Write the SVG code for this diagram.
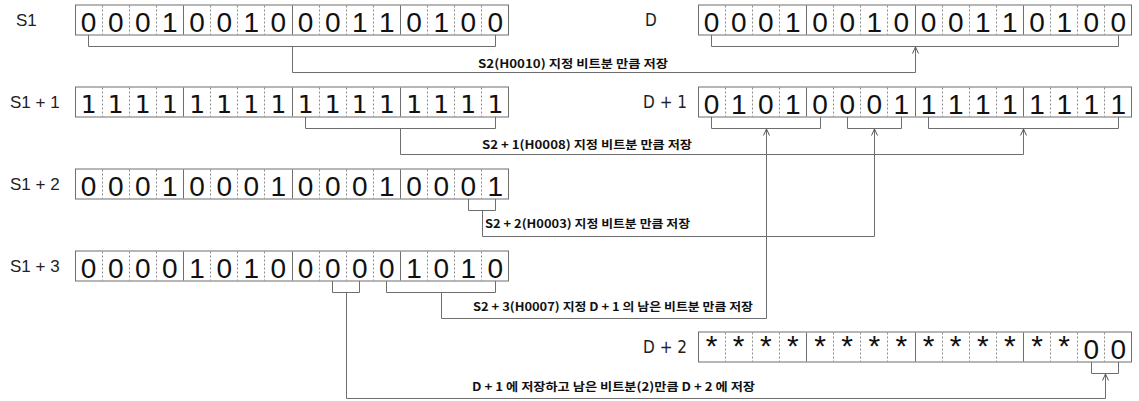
<svg xmlns="http://www.w3.org/2000/svg" width="1139" height="401" viewBox="0 0 1139 401">
<defs>
<style>
.reg{fill:#fff;stroke:#6e6e6e;stroke-width:1}
.sep{stroke:#6e6e6e;stroke-width:1}
.dsh{stroke:#8a8a8a;stroke-width:1;stroke-dasharray:2,2}
.dig{font-family:"Liberation Sans",Arial,sans-serif;font-size:28px;fill:#111;text-anchor:middle}
.dig2{font-family:"DejaVu Sans",sans-serif;font-size:25px;fill:#111;text-anchor:middle}
.ast{font-family:"Liberation Sans",Arial,sans-serif;font-size:30px;fill:#111;text-anchor:middle}
.lbl{font-family:"Liberation Sans",Arial,sans-serif;font-size:17px;fill:#222}
.lbld{font-family:"Liberation Sans Narrow","DejaVu Sans Condensed","Liberation Sans",sans-serif;font-size:17px;fill:#222;font-stretch:condensed}
.br{fill:none;stroke:#6e6e6e;stroke-width:1}
.cn{fill:none;stroke:#6e6e6e;stroke-width:1}
.ct{font-family:"Noto Sans CJK KR","Liberation Sans",sans-serif;font-size:11.5px;font-weight:bold;fill:#111}
</style>
<marker id="ah" viewBox="0 0 8 8" markerWidth="8" markerHeight="8" refX="7.5" refY="4" orient="auto" markerUnits="userSpaceOnUse">
<path d="M1,1 L7.5,4 L1,7" fill="none" stroke="#555" stroke-width="1"/>
</marker>
<g id="gridL">
<rect class="reg" x="75.5" y="0.5" width="433" height="30"/>
<path class="dsh" d="M102.5,1V30M129.5,1V30M156.5,1V30M210.5,1V30M237.5,1V30M264.5,1V30M319.5,1V30M346.5,1V30M373.5,1V30M427.5,1V30M454.5,1V30M481.5,1V30"/>
<path class="sep" d="M183.5,1V30M292.5,1V30M400.5,1V30"/>
</g>
<g id="gridR">
<rect class="reg" x="698.5" y="0.5" width="433" height="30"/>
<path class="dsh" d="M725.5,1V30M752.5,1V30M779.5,1V30M833.5,1V30M860.5,1V30M887.5,1V30M942.5,1V30M969.5,1V30M996.5,1V30M1050.5,1V30M1077.5,1V30M1104.5,1V30"/>
<path class="sep" d="M806.5,1V30M915.5,1V30M1023.5,1V30"/>
</g>
</defs>

<g id="S1">
<text class="lbl" x="16" y="26">S1</text>
<use href="#gridL" x="0" y="4.5"/>
<text class="dig" y="32" x="88.6 115.7 142.8 169.9 197.1 224.2 251.3 278.4 305.6 332.7 359.8 386.9 414.1 441.2 468.3 495.4">0001001000110100</text>
<path class="br" d="M88.5,35V46.5H495.5V35"/>
</g>

<g id="D">
<text class="lbld" x="645" y="26">D</text>
<use href="#gridR" x="0" y="4.5"/>
<text class="dig" y="32" x="711.6 738.7 765.8 792.9 820.1 847.2 874.3 901.4 928.6 955.7 982.8 1009.9 1037.1 1064.2 1091.3 1118.4">0001001000110100</text>
<path class="br" d="M711.5,35V46.5H1118.5V35"/>
</g>

<g id="S1p1">
<text class="lbl" x="10" y="108">S1 + 1</text>
<use href="#gridL" x="0" y="86.5"/>
<text class="dig2" y="113" x="88.6 115.7 142.8 169.9 197.1 224.2 251.3 278.4 305.6 332.7 359.8 386.9 414.1 441.2 468.3 495.4">1111111111111111</text>
<path class="br" d="M305.5,117V128.5H495.5V117"/>
</g>

<g id="Dp1">
<text class="lbld" x="643" y="108">D + 1</text>
<use href="#gridR" x="0" y="86.5"/>
<text class="dig" y="114" x="711.6 738.7 765.8 792.9 820.1 847.2 874.3 901.4 928.6 955.7 982.8 1009.9 1037.1 1064.2 1091.3 1118.4">0101000111111111</text>
<path class="br" d="M711.5,117V128.5H820.5V117M847.5,117V128.5H901.5V117M928.5,117V128.5H1118.5V117"/>
</g>

<g id="S1p2">
<text class="lbl" x="10" y="190">S1 + 2</text>
<use href="#gridL" x="0" y="168.5"/>
<text class="dig" y="196" x="88.6 115.7 142.8 169.9 197.1 224.2 251.3 278.4 305.6 332.7 359.8 386.9 414.1 441.2 468.3 495.4">0001000100010001</text>
<path class="br" d="M468.5,199V210.5H495.5V199"/>
</g>

<g id="S1p3">
<text class="lbl" x="10" y="272">S1 + 3</text>
<use href="#gridL" x="0" y="250.5"/>
<text class="dig" y="278" x="88.6 115.7 142.8 169.9 197.1 224.2 251.3 278.4 305.6 332.7 359.8 386.9 414.1 441.2 468.3 495.4">0000101000001010</text>
<path class="br" d="M332.5,281V292.5H359.5V281M386.5,281V292.5H495.5V281"/>
</g>

<g id="Dp2">
<text class="lbld" x="643" y="353">D + 2</text>
<use href="#gridR" x="0" y="331.5"/>
<text class="ast" y="356" x="711.6 738.7 765.8 792.9 820.1 847.2 874.3 901.4 928.6 955.7 982.8 1009.9 1037.1 1064.2">**************</text>
<text class="dig" y="359" x="1091.3 1118.4">00</text>
<path class="br" d="M1091.5,362V373.5H1118.5V362"/>
</g>

<g id="connectors">
<path class="cn" d="M292.5,46.5V72.5H915.5V47" marker-end="url(#ah)"/>
<path class="cn" d="M400.5,128.5V154.5H1023.5V129" marker-end="url(#ah)"/>
<path class="cn" d="M482.5,210.5V236.5H874.5V129" marker-end="url(#ah)"/>
<path class="cn" d="M441.5,292.5V318.5H766.5V129" marker-end="url(#ah)"/>
<path class="cn" d="M346.5,292.5V398.5H1105.5V374" marker-end="url(#ah)"/>
<text class="ct" x="478" y="68" textLength="190" lengthAdjust="spacingAndGlyphs">S2(H0010) 지정 비트분 만큼 저장</text>
<text class="ct" x="482" y="149" textLength="210" lengthAdjust="spacingAndGlyphs">S2 + 1(H0008) 지정 비트분 만큼 저장</text>
<text class="ct" x="485" y="228" textLength="205" lengthAdjust="spacingAndGlyphs">S2 + 2(H0003) 지정 비트분 만큼 저장</text>
<text class="ct" x="473" y="311" textLength="280" lengthAdjust="spacingAndGlyphs">S2 + 3(H0007) 지정 D + 1 의 남은 비트분 만큼 저장</text>
<text class="ct" x="472" y="391" textLength="283" lengthAdjust="spacingAndGlyphs">D + 1 에 저장하고 남은 비트분(2)만큼 D + 2 에 저장</text>
</g>
</svg>
